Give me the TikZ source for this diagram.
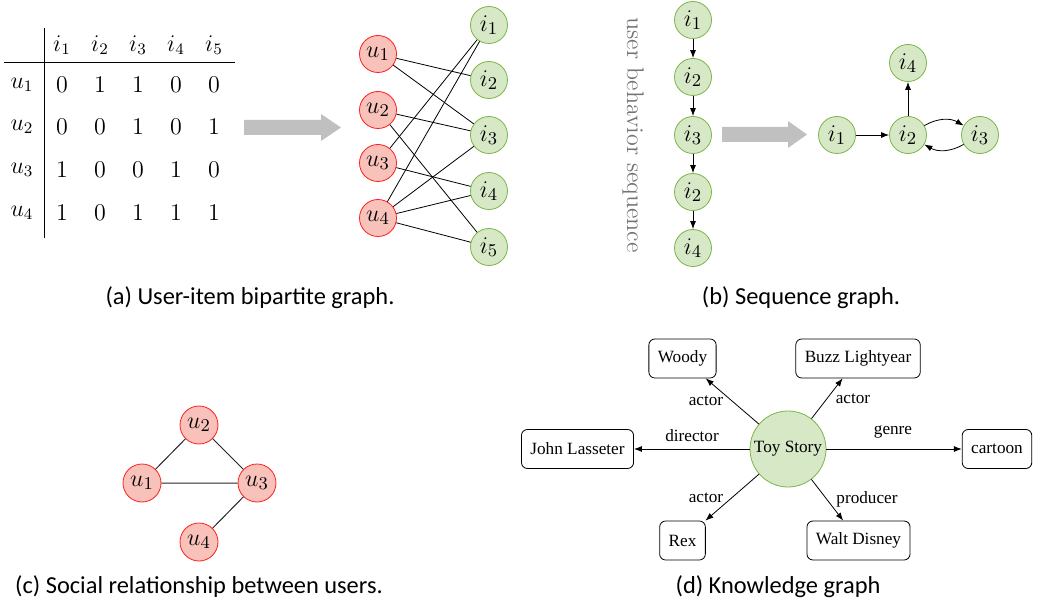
\documentclass[tikz,border=0pt]{standalone}
\usepackage{fontspec}
\newfontfamily\capfont{Carlito}
\newfontfamily\boxfont{Liberation Serif}
\usetikzlibrary{arrows.meta}

\definecolor{ufill}{RGB}{248,194,186}
\definecolor{udraw}{RGB}{255,30,30}
\definecolor{ifill}{RGB}{214,232,198}
\definecolor{idraw}{RGB}{122,182,72}
\definecolor{arrowgray}{RGB}{192,192,192}

\tikzset{
  cell/.style={inner sep=0pt, font=\fontsize{12}{12}\selectfont},
  unode/.style={circle, draw=udraw, fill=ufill, minimum size=18.5pt, inner sep=0pt,
    font=\fontsize{12.5}{12}\selectfont},
  inode/.style={circle, draw=idraw, fill=ifill, minimum size=18.5pt, inner sep=0pt,
    font=\fontsize{12.5}{12}\selectfont},
  ent/.style={draw, rounded corners=3pt, minimum height=19.5pt, inner xsep=4.5pt,
    font=\boxfont\fontsize{8.6}{9}\selectfont},
  rel/.style={inner sep=0pt, font=\boxfont\fontsize{8.6}{9}\selectfont},
  captext/.style={inner sep=0pt, font=\capfont\fontsize{12.2}{14}\selectfont},
}

\begin{document}
\begin{tikzpicture}[x=0.5pt, y=-0.5pt, >={Latex[length=4pt,width=3pt]}]
  \useasboundingbox (0,0) rectangle (1039,609);

  % (a) user-item matrix
  \draw (4,62) -- (235,62);
  \draw (44,28) -- (44,238);
  \foreach \c in {1,...,5}
    \node[cell] (h\c) at (24+38*\c,45) {$i_\c$};
  \foreach \r/\y/\vals in {1/85/{0,1,1,0,0}, 2/127/{0,0,1,0,1}, 3/170/{1,0,0,1,0}, 4/213/{1,0,1,1,1}} {
    \node[cell] (r\r) at (22,\y) {$u_\r$};
    \foreach \v [count=\c] in \vals
      \node[cell] (m\r\c) at (24+38*\c,\y) {$\v$};
  }
  \fill[arrowgray] (244,120) -- (321,120) -- (321,114) -- (341,127.5)
    -- (321,141) -- (321,135) -- (244,135) -- cycle;

  % (a) bipartite graph
  \foreach \k/\y in {1/54, 2/110, 3/163, 4/218}
    \node[unode] (u\k) at (378,\y) {$u_\k$};
  \foreach \k/\y in {1/25, 2/80, 3/135, 4/191, 5/247}
    \node[inode] (i\k) at (489,\y) {$i_\k$};
  \foreach \a/\b in {1/2, 1/3, 2/3, 2/5, 3/1, 3/4, 4/1, 4/3, 4/4, 4/5}
    \draw (u\a) -- (i\b);
  \node[captext] (capa) at (250,298) {(a) User-item bipartite graph.};

  % (b) sequence
  \node[rotate=-90, text=black!55, font=\fontsize{12}{12}\selectfont] (seqlab) at (633,135) {user behavior sequence};
  \foreach \k/\y/\l in {1/20/1, 2/77/2, 3/135/3, 4/192/2, 5/248/4}
    \node[inode] (q\k) at (693,\y) {$i_\l$};
  \foreach \a/\b in {1/2, 2/3, 3/4, 4/5}
    \draw[->] (q\a) -- (q\b);
  \fill[arrowgray] (722,127) -- (788,127) -- (788,121) -- (807,134.5)
    -- (788,148) -- (788,142) -- (722,142) -- cycle;

  % (b) session graph
  \node[inode] (g1) at (837,135) {$i_1$};
  \node[inode] (g2) at (908,135) {$i_2$};
  \node[inode] (g3) at (980,135) {$i_3$};
  \node[inode] (g4) at (908,63) {$i_4$};
  \draw[->] (g1) -- (g2);
  \draw[->] (g2) -- (g4);
  \draw[->] (g2) to[bend left=30] (g3);
  \draw[->] (g3) to[bend left=30] (g2);
  \node[captext] (capb) at (801,298) {(b) Sequence graph.};

  % (c) social graph
  \node[unode, minimum size=19pt] (p1) at (142,483) {$u_1$};
  \node[unode, minimum size=19pt] (p2) at (199,425) {$u_2$};
  \node[unode, minimum size=19pt] (p3) at (257,483) {$u_3$};
  \node[unode, minimum size=19pt] (p4) at (199,542) {$u_4$};
  \draw[black!85, line width=0.5pt] (p1) -- (p2) (p2) -- (p3) (p1) -- (p3) (p3) -- (p4);
  \node[captext] (capc) at (199,587) {(c) Social relationship between users.};

  % (d) knowledge graph
  \node[inode, minimum size=38pt, font=\boxfont\fontsize{8.6}{9}\selectfont] (toy) at (788,449) {Toy Story};
  \node[ent] (woody) at (682.5,358.5) {Woody};
  \node[ent] (buzz) at (858,358.5) {Buzz Lightyear};
  \node[ent] (john) at (577.5,449) {John Lasseter};
  \node[ent] (cartoon) at (997,449) {cartoon};
  \node[ent] (rex) at (682.5,540.5) {Rex};
  \node[ent] (walt) at (858.5,540.5) {Walt Disney};
  \foreach \t in {woody, buzz, john, cartoon, rex, walt}
    \draw[->] (toy) -- (\t);
  \node[rel] (r1) at (706,401) {actor};
  \node[rel] (r2) at (853,399) {actor};
  \node[rel] (r3) at (692,436) {director};
  \node[rel] (r4) at (893,432) {genre};
  \node[rel] (r5) at (706,498) {actor};
  \node[rel] (r6) at (867,499) {producer};
  \node[captext] (capd) at (778,587) {(d) Knowledge graph};
\end{tikzpicture}
\end{document}
